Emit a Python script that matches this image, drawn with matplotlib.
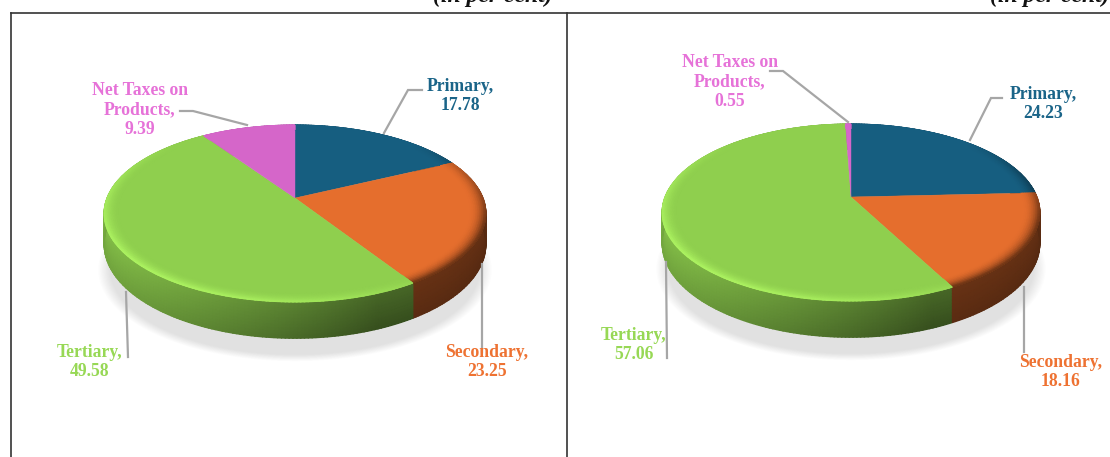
import numpy as np
import matplotlib
matplotlib.use("Agg")
import matplotlib.pyplot as plt

plt.rcParams['font.family'] = ['Liberation Serif', 'DejaVu Serif']

# shares, clockwise from 12 o'clock
categories = ['Primary', 'Secondary', 'Tertiary', 'Net Taxes on\nProducts']
left_values = [17.78, 23.25, 49.58, 9.39]
right_values = [24.23, 18.16, 57.06, 0.55]

face_colors = ['#165E80', '#E56E2D', '#8FCF4E', '#D566C9']
bright_colors = ['#2C86AE', '#E56E2D', '#AEF562', '#E88ADD']
text_colors = ['#1A6488', '#EE7232', '#97D855', '#E672D8']
unit_text = '(in per cent)'

# perspective of the tilted disc
P = 0.175
RY = 85.8
DEPTH = 30.0
LIGHT = np.deg2rad(225)


def project(cx, cy, rx, r, theta):
    u = r * np.sin(theta)
    v = r * np.cos(theta)
    w = 1 + P * v
    return cx + rx * u / w, cy - RY * v / w, w


def to_rgb(c):
    return np.array(matplotlib.colors.to_rgb(c))


def draw_wall(ax, cx, cy, rx, a0, a1, j):
    tt = np.linspace(a0, a1, max(3, int((a1 - a0) * 60)))
    zz = np.linspace(0, 1, 12)
    T, Z = np.meshgrid(tt, zz)
    x, y, w = project(cx, cy, rx, 1.0, T)
    Y = y + DEPTH / w * Z
    t = (x - (cx - rx)) / (2 * rx)
    if j == 1:
        f = -0.50 - 0.06 * t - 0.06 * Z
    else:
        f = -0.08 - 0.42 * np.clip(t / 0.72, 0, 1) - 0.12 * Z
    rgb = to_rgb(face_colors[j])[None, None, :] * (1 + f)[:, :, None]
    ax.pcolormesh(x, Y, np.clip(rgb, 0, 1), shading='gouraud', zorder=2)


def draw_bevel(ax, cx, cy, rx, a0, a1, j):
    tt = np.linspace(a0, a1, max(3, int((a1 - a0) * 60)))
    rr = np.linspace(0.92, 1.0, 9)
    T, R = np.meshgrid(tt, rr)
    x, y, w = project(cx, cy, rx, R, T)
    s = ((R - 0.92) / 0.08) ** 2
    h = np.cos(T - LIGHT)
    lit = np.clip(h, 0, 1) * s
    front = np.clip((0.7 - np.cos(T)) / 1.2, 0, 1)
    dark = np.clip(-h, 0, 1) * s * front * 0.8
    if j == 1:
        dark = np.maximum(dark, s * 0.55 * np.clip(0.7 - np.cos(T), 0, 1))
    base = to_rgb(face_colors[j])
    bright = to_rgb(bright_colors[j])
    rgb = base[None, None, :] + (bright - base)[None, None, :] * lit[:, :, None]
    rgb = rgb * (1 - dark)[:, :, None]
    ax.pcolormesh(x, y, np.clip(rgb, 0, 1), shading='gouraud', zorder=4)


def draw_pie(ax, cx, cy, rx, values):
    values = np.array(values)
    edges = np.concatenate([[0], np.cumsum(values)]) / values.sum() * 2 * np.pi

    # soft shadow under the disc
    th = np.linspace(0, 2 * np.pi, 300)
    for grow in np.linspace(1.03, 0.97, 10):
        x, y, w = project(cx, cy, rx, 1.0, th)
        ax.fill(cx + (x - cx) * grow, cy + 56 + (y - cy) * grow, color='#808080', alpha=0.024, lw=0, zorder=1)

    order = np.argsort(-np.cos((edges[:-1] + edges[1:]) / 2))
    for j in order:
        draw_wall(ax, cx, cy, rx, edges[j], edges[j + 1], j)
    for j in range(len(values)):
        tt = np.linspace(edges[j], edges[j + 1], 200)
        x, y, w = project(cx, cy, rx, 1.0, tt)
        ax.fill(np.r_[cx, x], np.r_[cy, y], color=face_colors[j], lw=0.3, zorder=3)
        draw_bevel(ax, cx, cy, rx, edges[j], edges[j + 1], j)


def draw_labels(ax, values, label_pos, leaders):
    for name, val, col, pos, path in zip(categories, values, text_colors, label_pos, leaders):
        ax.plot(*zip(*path), color='#A6A6A6', lw=1.6, solid_joinstyle='miter', zorder=5)
        ax.text(pos[0], pos[1], f'{name},\n{val:.2f}', color=col, fontsize=12.7, fontweight='bold',
                ha='center', va='center', linespacing=1.22, zorder=6)


fig = plt.figure(figsize=(11.1, 4.57), dpi=100)
ax = fig.add_axes([0, 0, 1, 1])
ax.axis('off')

# panel frame
ax.plot([11, 11], [457, 13], color='#333333', lw=1.2)
ax.plot([11, 1110], [13, 13], color='#333333', lw=1.2)
ax.plot([567, 567], [13, 457], color='#333333', lw=1.2)

draw_pie(ax, 295, 198, 188.0, left_values)
draw_pie(ax, 851, 197, 186.0, right_values)

left_pos = [(460, 96), (487, 362), (90, 362), (140, 110)]
left_leaders = [[(384, 133), (408, 90), (422, 90)],
                [(482, 264), (482, 352)],
                [(126, 292), (128, 357)],
                [(247, 125), (193, 111), (180, 111)]]
right_pos = [(1043, 104), (1061, 372), (634, 345), (730, 82)]
right_leaders = [[(970, 140), (991, 98), (1002, 98)],
                 [(1024, 287), (1024, 352)],
                 [(666, 262), (667, 358)],
                 [(848, 122), (783, 71), (770, 71)]]
draw_labels(ax, left_values, left_pos, left_leaders)
draw_labels(ax, right_values, right_pos, right_leaders)

# unit notes, cut by the top edge of the page
ax.text(553, 2, unit_text, fontsize=17, fontweight='bold', fontstyle='italic', color='#111111',
        ha='right', va='baseline')
ax.text(1110, 2, unit_text, fontsize=17, fontweight='bold', fontstyle='italic', color='#111111',
        ha='right', va='baseline')

ax.set_xlim(0, 1110)
ax.set_ylim(457, 0)
fig.savefig('out.png', dpi=100)
